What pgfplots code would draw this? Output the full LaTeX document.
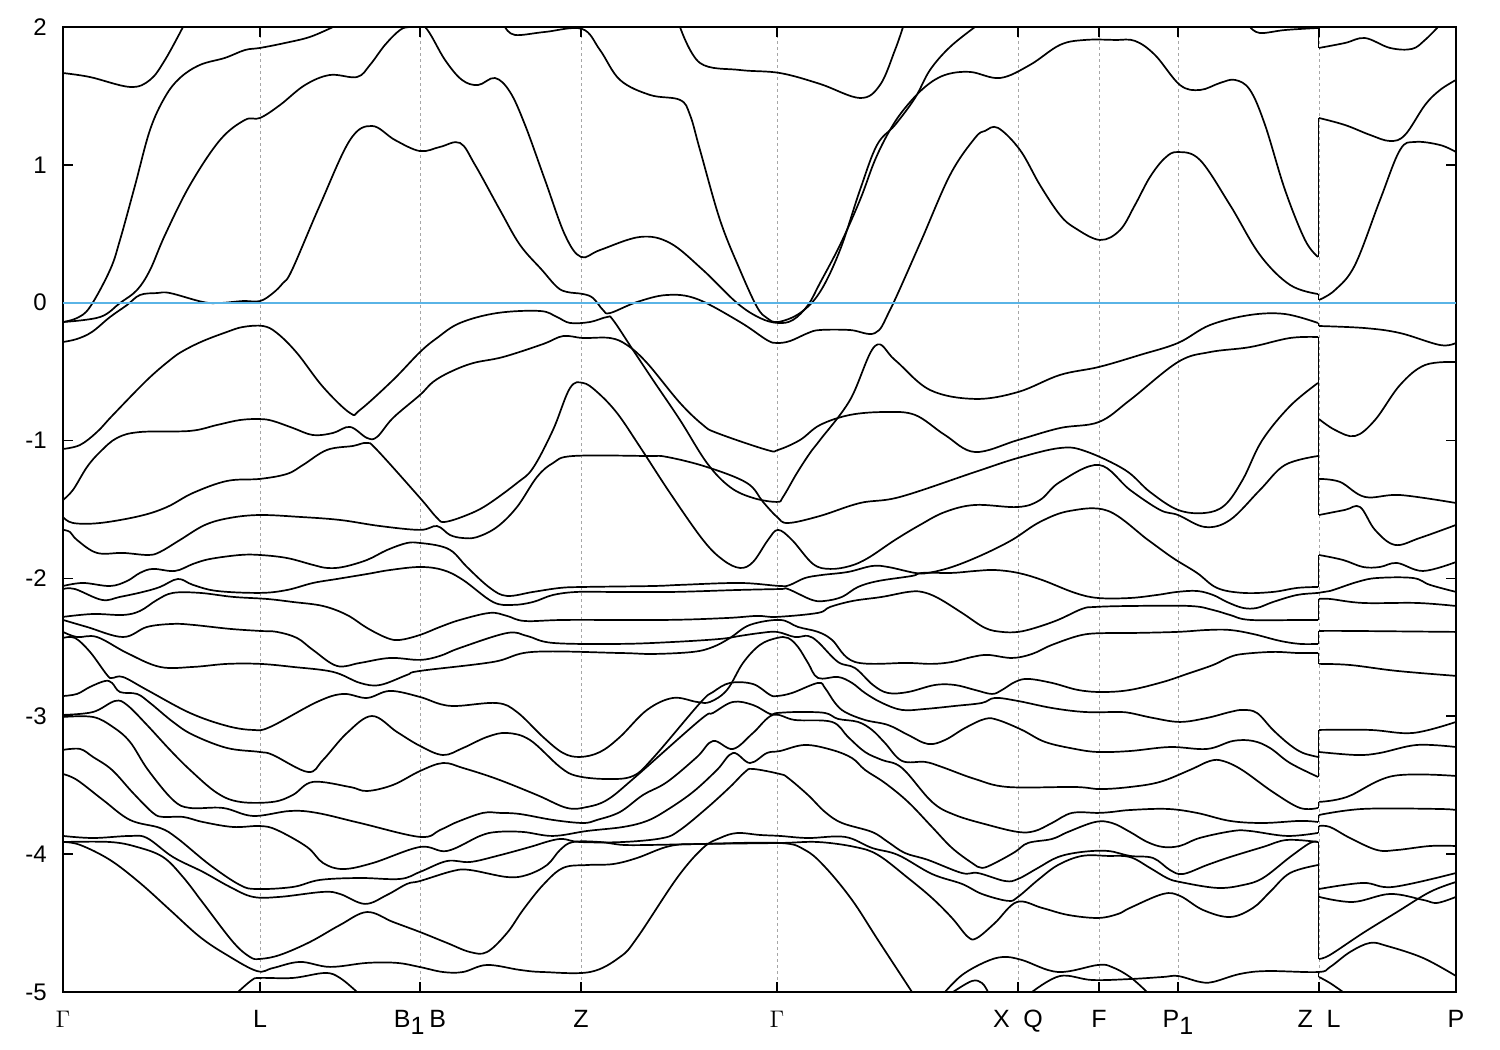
\documentclass[border=0pt]{standalone}
\usepackage{fontspec}
\setmainfont{Liberation Sans}
\usepackage{pgfplots}
\pgfplotsset{compat=1.18}
\definecolor{zeroline}{RGB}{90,180,230}
\pgfplotsset{band/.style={black,line width=.85pt,smooth,tension=.6,mark=none},
 jump/.style={black,line width=.9pt,mark=none}}
\begin{document}
\begin{tikzpicture}
\useasboundingbox (-31.5pt,-29pt) rectangle (718.5pt,496pt);
\begin{axis}[
 at={(0,0)},anchor=south west,
 scale only axis,width=696.5pt,height=482.5pt,
 xmin=63,xmax=1456,ymin=-5,ymax=2,
 axis line style={line width=.9pt},
 tick style={line width=.8pt,black},
 major tick length=5pt,tick align=inside,
 xtick={63,260,420,581,777,1018,1099,1178,1319,1456},
 xticklabels={$\Gamma$,L,{B\raisebox{-.25em}{1}\hspace{.2em}B},Z,$\Gamma$,{X\hspace{.55em}Q},F,{P\raisebox{-.25em}{1}},{Z\hspace{.55em}L},P},
 ytick={-5,-4,-3,-2,-1,0,1,2},
 yticklabels={-5,-4,-3,-2,-1,0,1,2},
 xmajorgrids,
 major grid style={gray!70,line width=.35pt,dash pattern=on 1.5pt off 1.5pt},
 xticklabel style={font=\fontsize{12.5}{14}\selectfont,anchor=base,yshift=-18pt,inner sep=0pt},
 yticklabel style={font=\fontsize{12}{14}\selectfont,anchor=east,xshift=-8pt,inner sep=0pt},
]
\addplot[band] coordinates {(63,1.666)(90,1.637)(130,1.565)(150,1.616)(165,1.761)(183,2)};
\addplot[band] coordinates {(63,-.14)(77,-.111)(90,-.031)(110,.237)(120,.455)(135,.85)(150,1.253)(165,1.492)(180,1.631)(200,1.725)(225,1.776)(245,1.833)(260,1.848)(285,1.884)(310,1.928)(333,2)};
\addplot[band] coordinates {(505,2)(515,1.942)(545,1.964)(582,1.986)(600,1.833)(620,1.616)(650,1.507)(680,1.471)(690,1.362)(700,1.108)(720,.6)(740,.237)(757,-.031)(767,-.111)(778,-.14)(800,-.075)(820,.078)(840,.382)(860,.818)(877,1.144)(895,1.289)(915,1.485)(930,1.688)(950,1.855)(975,2)};
\addplot[band] coordinates {(63,-.14)(100,-.104)(120,-.002)(137,.092)(150,.237)(165,.491)(190,.854)(220,1.18)(245,1.326)(260,1.34)(280,1.434)(305,1.579)(330,1.652)(357,1.637)(370,1.725)(385,1.87)(400,1.978)(410,2)(425,2)(445,1.761)(462,1.616)(478,1.579)(495,1.63)(510,1.529)(525,1.29)(545,.89)(565,.491)(581,.332)(600,.382)(640,.477)(670,.433)(703,.237)(737,-.002)(760,-.111)(778,-.147)(793,-.125)(808,-.017)(820,.143)(840,.419)(860,.745)(875,1.035)(890,1.253)(905,1.412)(925,1.565)(945,1.652)(970,1.674)(1000,1.63)(1030,1.725)(1060,1.87)(1085,1.906)(1115,1.906)(1135,1.899)(1155,1.797)(1180,1.579)(1200,1.543)(1220,1.594)(1235,1.616)(1250,1.543)(1265,1.29)(1285,.818)(1305,.455)(1318,.332)};
\addplot[band] coordinates {(680,2)(700,1.739)(740,1.688)(780,1.666)(820,1.587)(860,1.485)(880,1.579)(895,1.833)(903,2)};
\addplot[band] coordinates {(1250,2)(1260,1.956)(1285,1.978)(1318,1.993)};
\addplot[band] coordinates {(1319,1.848)(1345,1.884)(1365,1.92)(1390,1.848)(1412,1.841)(1425,1.906)(1438,2)};
\addplot[band] coordinates {(63,-.285)(77,-.263)(92,-.212)(110,-.104)(127,-.017)(140,.056)(157,.07)(170,.07)(203,.005)(220,-.002)(243,.012)(260,.012)(273,.07)(283,.143)(292,.237)(320,.709)(350,1.18)(372,1.282)(395,1.18)(420,1.1)(440,1.13)(460,1.159)(475,1)(500,.672)(520,.419)(542,.237)(557,.114)(567,.078)(583,.063)(593,.034)(603,-.053)(610,-.075)(637,.005)(667,.056)(697,.027)(740,-.14)(767,-.271)(777,-.292)(790,-.278)(808,-.22)(820,-.198)(850,-.198)(875,-.22)(890,-.053)(920,.43)(950,.926)(975,1.195)(985,1.246)(998,1.268)(1020,1.108)(1040,.853)(1060,.636)(1075,.542)(1100,.455)(1120,.527)(1135,.709)(1150,.912)(1165,1.05)(1178,1.093)(1200,1.035)(1230,.709)(1260,.346)(1290,.129)(1318,.063)};
\addplot[band] coordinates {(63,-1.061)(80,-1.032)(97,-.938)(113,-.814)(147,-.561)(170,-.416)(183,-.35)(203,-.278)(227,-.212)(243,-.176)(263,-.169)(277,-.22)(297,-.365)(323,-.611)(350,-.8)(360,-.778)(393,-.561)(420,-.358)(437,-.256)(460,-.147)(497,-.075)(540,-.06)(557,-.104)(570,-.147)(590,-.14)(607,-.104)(613,-.125)(633,-.343)(653,-.561)(680,-.851)(707,-1.163)(730,-1.337)(753,-1.416)(777,-1.445)(783,-1.409)(797,-1.235)(810,-1.09)(820,-.996)(850,-.706)(875,-.314)(895,-.416)(930,-.633)(975,-.698)(1018,-.648)(1060,-.524)(1099,-.466)(1140,-.379)(1178,-.292)(1210,-.162)(1250,-.089)(1285,-.082)(1318,-.147)};
\addplot[band] coordinates {(63,-1.431)(73,-1.358)(87,-1.192)(100,-1.083)(117,-.981)(140,-.938)(190,-.93)(217,-.887)(240,-.851)(260,-.844)(273,-.858)(293,-.909)(313,-.96)(333,-.945)(350,-.901)(367,-.981)(377,-.974)(393,-.836)(420,-.669)(433,-.575)(450,-.503)(473,-.438)(503,-.394)(543,-.3)(563,-.242)(583,-.256)(610,-.256)(627,-.307)(647,-.437)(680,-.727)(703,-.887)(717,-.945)(767,-1.068)(778,-1.068)(800,-.996)(820,-.887)(850,-.814)(885,-.793)(915,-.814)(945,-.96)(975,-1.083)(1018,-.996)(1060,-.909)(1099,-.865)(1130,-.706)(1178,-.43)(1210,-.358)(1250,-.322)(1290,-.256)(1318,-.249)};
\addplot[band] coordinates {(63,-1.554)(73,-1.598)(100,-1.598)(140,-1.547)(167,-1.482)(193,-1.38)(227,-1.293)(260,-1.278)(287,-1.242)(303,-1.177)(327,-1.068)(353,-1.039)(367,-1.017)(377,-1.068)(420,-1.416)(437,-1.561)(445,-1.59)(467,-1.54)(487,-1.467)(517,-1.308)(533,-1.199)(553,-.923)(570,-.619)(583,-.582)(597,-.647)(617,-.8)(640,-1.046)(670,-1.38)(703,-1.721)(723,-1.866)(740,-1.924)(753,-1.881)(768,-1.721)(778,-1.648)(792,-1.721)(813,-1.895)(830,-1.931)(850,-1.91)(868,-1.852)(895,-1.721)(920,-1.612)(945,-1.518)(975,-1.467)(1018,-1.482)(1040,-1.431)(1060,-1.3)(1099,-1.177)(1130,-1.358)(1160,-1.503)(1178,-1.54)(1205,-1.627)(1230,-1.576)(1260,-1.358)(1285,-1.177)(1318,-1.112)};
\addplot[band] coordinates {(63,-1.648)(70,-1.663)(77,-1.721)(97,-1.815)(123,-1.815)(148,-1.83)(160,-1.808)(180,-1.721)(205,-1.612)(230,-1.561)(260,-1.54)(300,-1.554)(340,-1.576)(380,-1.62)(420,-1.648)(437,-1.62)(450,-1.685)(463,-1.707)(477,-1.7)(497,-1.627)(517,-1.482)(537,-1.264)(553,-1.163)(573,-1.112)(647,-1.112)(667,-1.119)(707,-1.192)(747,-1.308)(763,-1.445)(777,-1.554)(788,-1.598)(820,-1.547)(860,-1.453)(900,-1.409)(975,-1.228)(1018,-1.126)(1060,-1.054)(1085,-1.076)(1125,-1.213)(1150,-1.373)(1178,-1.503)(1205,-1.525)(1225,-1.467)(1243,-1.28)(1262,-1)(1290,-.75)(1318,-.582)};
\addplot[band] coordinates {(63,-2.055)(83,-2.033)(110,-2.055)(127,-2.019)(140,-1.96)(153,-1.931)(175,-1.946)(193,-1.895)(210,-1.859)(240,-1.83)(260,-1.83)(287,-1.852)(313,-1.902)(327,-1.924)(343,-1.917)(367,-1.866)(387,-1.794)(407,-1.743)(420,-1.743)(440,-1.765)(453,-1.808)(467,-1.917)(490,-2.069)(507,-2.127)(533,-2.098)(560,-2.069)(583,-2.062)(653,-2.055)(680,-2.047)(740,-2.033)(780,-2.055)(790,-2.047)(805,-1.997)(822,-1.975)(848,-1.953)(872,-1.91)(888,-1.917)(915,-1.96)(928,-1.96)(952,-1.917)(982,-1.83)(1012,-1.721)(1040,-1.59)(1070,-1.51)(1108,-1.51)(1148,-1.721)(1173,-1.852)(1197,-1.96)(1217,-2.069)(1243,-2.105)(1273,-2.098)(1297,-2.069)(1318,-2.062)};
\addplot[band] coordinates {(63,-2.077)(75,-2.077)(102,-2.156)(120,-2.134)(143,-2.098)(160,-2.062)(178,-2.004)(193,-2.047)(217,-2.091)(260,-2.105)(287,-2.084)(313,-2.033)(337,-2.004)(367,-1.968)(390,-1.939)(420,-1.917)(443,-1.939)(463,-2.011)(493,-2.171)(513,-2.192)(533,-2.171)(553,-2.12)(577,-2.098)(613,-2.098)(673,-2.098)(737,-2.084)(780,-2.077)(788,-2.077)(812,-2.156)(825,-2.163)(842,-2.134)(858,-2.062)(878,-2.019)(912,-1.982)(922,-1.96)(952,-1.96)(975,-1.946)(995,-1.939)(1018,-1.96)(1042,-2.011)(1075,-2.105)(1098,-2.142)(1130,-2.142)(1157,-2.12)(1177,-2.098)(1197,-2.091)(1213,-2.12)(1227,-2.171)(1243,-2.214)(1257,-2.214)(1273,-2.171)(1297,-2.12)(1318,-2.105)(1330,-2.091)(1357,-2.026)(1377,-1.997)(1413,-1.997)(1430,-2.047)(1456,-2.098)};
\addplot[band] coordinates {(63,-2.279)(93,-2.258)(123,-2.265)(140,-2.236)(157,-2.156)(173,-2.105)(200,-2.105)(233,-2.134)(267,-2.149)(293,-2.171)(323,-2.2)(347,-2.265)(367,-2.359)(387,-2.432)(400,-2.446)(420,-2.41)(440,-2.352)(460,-2.301)(490,-2.25)(507,-2.272)(525,-2.309)(567,-2.301)(667,-2.301)(727,-2.287)(757,-2.272)(777,-2.279)(818,-2.25)(830,-2.207)(853,-2.163)(882,-2.134)(908,-2.098)(922,-2.098)(938,-2.142)(962,-2.25)(985,-2.359)(1002,-2.388)(1018,-2.388)(1035,-2.359)(1058,-2.301)(1082,-2.221)(1095,-2.207)(1130,-2.2)(1190,-2.2)(1213,-2.229)(1230,-2.265)(1250,-2.301)(1303,-2.301)(1318,-2.301)};
\addplot[band] coordinates {(63,-2.301)(87,-2.352)(123,-2.425)(147,-2.352)(173,-2.33)(193,-2.337)(230,-2.366)(260,-2.381)(277,-2.388)(297,-2.432)(313,-2.519)(337,-2.635)(360,-2.613)(390,-2.577)(420,-2.591)(440,-2.562)(460,-2.504)(507,-2.396)(527,-2.417)(553,-2.468)(620,-2.475)(673,-2.461)(720,-2.439)(740,-2.417)(760,-2.396)(777,-2.388)(795,-2.425)(808,-2.417)(818,-2.461)(838,-2.606)(855,-2.65)(873,-2.773)(888,-2.831)(908,-2.824)(935,-2.773)(955,-2.773)(975,-2.809)(992,-2.838)(1002,-2.809)(1015,-2.751)(1028,-2.729)(1052,-2.758)(1078,-2.809)(1102,-2.824)(1130,-2.809)(1163,-2.751)(1187,-2.693)(1213,-2.628)(1230,-2.57)(1243,-2.548)(1273,-2.533)(1298,-2.541)(1318,-2.541)};
\addplot[band] coordinates {(63,-2.388)(77,-2.425)(97,-2.425)(127,-2.541)(160,-2.642)(193,-2.642)(227,-2.62)(260,-2.62)(293,-2.642)(333,-2.678)(360,-2.758)(380,-2.773)(407,-2.7)(420,-2.671)(493,-2.606)(533,-2.533)(620,-2.541)(653,-2.548)(693,-2.533)(713,-2.497)(730,-2.432)(750,-2.337)(780,-2.301)(798,-2.352)(818,-2.388)(832,-2.446)(855,-2.606)(908,-2.613)(932,-2.62)(952,-2.606)(972,-2.57)(988,-2.555)(1012,-2.577)(1032,-2.548)(1052,-2.482)(1082,-2.41)(1108,-2.396)(1130,-2.396)(1177,-2.388)(1207,-2.374)(1230,-2.374)(1253,-2.403)(1280,-2.453)(1300,-2.475)(1318,-2.475)};
\addplot[band] coordinates {(63,-2.432)(75,-2.432)(90,-2.533)(107,-2.7)(112,-2.722)(123,-2.715)(147,-2.809)(190,-2.976)(227,-3.07)(253,-3.099)(270,-3.078)(317,-2.896)(343,-2.838)(367,-2.867)(390,-2.816)(420,-2.86)(440,-2.911)(457,-2.925)(497,-2.904)(517,-2.969)(543,-3.15)(563,-3.266)(580,-3.295)(600,-3.259)(620,-3.15)(647,-2.954)(673,-2.867)(697,-2.896)(710,-2.896)(727,-2.809)(743,-2.613)(760,-2.482)(777,-2.432)(788,-2.432)(798,-2.497)(808,-2.613)(818,-2.722)(838,-2.715)(852,-2.758)(865,-2.831)(882,-2.903)(902,-2.954)(925,-2.947)(955,-2.925)(982,-2.903)(995,-2.867)(1018,-2.889)(1052,-2.94)(1085,-2.969)(1118,-2.969)(1130,-2.976)(1153,-3.012)(1180,-3.041)(1207,-3.012)(1230,-2.969)(1243,-2.954)(1257,-2.976)(1273,-3.099)(1290,-3.208)(1303,-3.266)(1318,-3.295)};
\addplot[band] coordinates {(63,-2.853)(77,-2.838)(90,-2.787)(105,-2.744)(112,-2.758)(120,-2.824)(137,-2.838)(150,-2.903)(173,-3.041)(193,-3.135)(227,-3.23)(260,-3.259)(273,-3.281)(308,-3.404)(323,-3.317)(347,-3.121)(372,-2.998)(397,-3.114)(420,-3.215)(443,-3.281)(463,-3.23)(487,-3.15)(507,-3.121)(530,-3.172)(560,-3.368)(577,-3.433)(607,-3.455)(633,-3.433)(653,-3.303)(700,-2.904)(713,-2.824)(730,-2.758)(753,-2.766)(770,-2.845)(777,-2.853)(792,-2.831)(818,-2.758)(825,-2.795)(835,-2.903)(845,-2.969)(865,-3.027)(888,-3.063)(908,-3.135)(928,-3.201)(945,-3.172)(965,-3.085)(985,-3.019)(998,-3.027)(1022,-3.099)(1045,-3.186)(1075,-3.237)(1098,-3.259)(1130,-3.252)(1170,-3.223)(1207,-3.237)(1233,-3.179)(1253,-3.179)(1270,-3.23)(1290,-3.339)(1318,-3.44)};
\addplot[band] coordinates {(63,-2.99)(93,-2.969)(115,-2.889)(127,-2.918)(147,-3.063)(170,-3.244)(190,-3.389)(217,-3.556)(240,-3.621)(273,-3.621)(293,-3.57)(313,-3.476)(350,-3.513)(367,-3.542)(393,-3.498)(420,-3.397)(443,-3.339)(463,-3.375)(497,-3.455)(537,-3.571)(567,-3.665)(587,-3.658)(607,-3.607)(633,-3.455)(700,-3.027)(713,-2.976)(733,-2.896)(753,-2.918)(770,-2.983)(777,-2.976)(798,-2.969)(825,-2.976)(838,-3.019)(858,-3.041)(872,-3.099)(885,-3.194)(902,-3.324)(925,-3.331)(942,-3.368)(975,-3.455)(1008,-3.513)(1075,-3.513)(1100,-3.528)(1130,-3.513)(1160,-3.476)(1190,-3.389)(1210,-3.324)(1223,-3.324)(1242,-3.389)(1273,-3.55)(1300,-3.665)(1318,-3.665)};
\addplot[band] coordinates {(63,-3.005)(93,-3.005)(113,-3.078)(130,-3.186)(148,-3.389)(173,-3.607)(190,-3.665)(223,-3.665)(253,-3.723)(290,-3.687)(317,-3.701)(360,-3.774)(420,-3.875)(440,-3.825)(457,-3.767)(483,-3.701)(500,-3.701)(520,-3.709)(553,-3.752)(583,-3.774)(597,-3.752)(620,-3.694)(643,-3.571)(667,-3.477)(697,-3.295)(713,-3.179)(733,-3.237)(753,-3.121)(773,-2.99)(795,-3.027)(832,-3.041)(848,-3.15)(865,-3.259)(882,-3.317)(902,-3.375)(932,-3.621)(955,-3.716)(988,-3.788)(1018,-3.839)(1035,-3.832)(1052,-3.774)(1072,-3.701)(1098,-3.701)(1112,-3.694)(1130,-3.68)(1167,-3.672)(1197,-3.701)(1230,-3.759)(1263,-3.774)(1300,-3.759)(1318,-3.767)};
\addplot[band] coordinates {(63,-3.244)(80,-3.237)(93,-3.295)(112,-3.389)(133,-3.556)(153,-3.701)(163,-3.73)(183,-3.73)(203,-3.767)(233,-3.803)(260,-3.796)(277,-3.825)(307,-3.948)(323,-4.064)(343,-4.108)(373,-4.064)(420,-3.948)(447,-3.977)(480,-3.868)(497,-3.839)(523,-3.839)(553,-3.868)(587,-3.832)(623,-3.803)(647,-3.759)(667,-3.68)(693,-3.549)(717,-3.389)(733,-3.266)(750,-3.339)(767,-3.266)(780,-3.252)(805,-3.208)(832,-3.244)(852,-3.303)(865,-3.389)(885,-3.484)(908,-3.621)(932,-3.803)(952,-3.955)(972,-4.064)(982,-4.1)(995,-4.064)(1015,-3.984)(1028,-3.919)(1052,-3.89)(1068,-3.839)(1095,-3.767)(1112,-3.774)(1130,-3.839)(1147,-3.911)(1163,-3.948)(1180,-3.94)(1200,-3.882)(1233,-3.832)(1250,-3.832)(1287,-3.868)(1318,-3.846)};
\addplot[band] coordinates {(63,-3.419)(77,-3.462)(103,-3.607)(130,-3.752)(160,-3.81)(177,-3.883)(210,-4.079)(240,-4.224)(257,-4.253)(293,-4.238)(320,-4.187)(360,-4.173)(400,-4.18)(420,-4.129)(447,-4.05)(470,-4.057)(497,-4.013)(530,-3.948)(550,-3.904)(563,-3.89)(580,-3.912)(623,-3.912)(663,-3.883)(680,-3.825)(707,-3.665)(730,-3.513)(745,-3.404)(753,-3.382)(780,-3.419)(788,-3.447)(808,-3.571)(825,-3.694)(842,-3.774)(872,-3.839)(888,-3.912)(905,-3.992)(928,-4.042)(962,-4.137)(978,-4.137)(1005,-4.195)(1018,-4.18)(1038,-4.1)(1058,-4.021)(1082,-3.984)(1108,-3.977)(1130,-4.013)(1153,-4.028)(1170,-4.115)(1183,-4.144)(1207,-4.079)(1230,-4.021)(1263,-3.948)(1287,-3.897)(1318,-3.912)};
\addplot[band] coordinates {(63,-3.868)(93,-3.883)(130,-3.868)(147,-3.883)(173,-4.021)(203,-4.129)(230,-4.238)(253,-4.31)(280,-4.31)(323,-4.274)(340,-4.289)(365,-4.361)(387,-4.296)(407,-4.216)(420,-4.195)(453,-4.122)(470,-4.115)(507,-4.166)(527,-4.151)(547,-4.079)(560,-3.97)(573,-3.912)(600,-3.912)(623,-3.933)(653,-3.933)(703,-3.926)(780,-3.919)(818,-3.912)(855,-3.948)(878,-4.006)(908,-4.173)(932,-4.318)(952,-4.463)(968,-4.601)(977,-4.608)(995,-4.499)(1017,-4.347)(1042,-4.39)(1068,-4.441)(1098,-4.463)(1118,-4.434)(1130,-4.39)(1163,-4.289)(1180,-4.303)(1203,-4.405)(1230,-4.456)(1253,-4.39)(1270,-4.274)(1290,-4.137)(1318,-4.079)};
\addplot[band] coordinates {(63,-3.912)(110,-3.912)(137,-3.948)(163,-4.021)(183,-4.166)(203,-4.354)(233,-4.637)(250,-4.746)(260,-4.76)(280,-4.731)(310,-4.637)(340,-4.514)(367,-4.42)(393,-4.492)(420,-4.565)(447,-4.644)(470,-4.71)(487,-4.71)(507,-4.572)(523,-4.405)(543,-4.224)(563,-4.1)(587,-4.079)(613,-4.072)(637,-4.028)(670,-3.941)(703,-3.926)(780,-3.919)(805,-3.97)(825,-4.093)(852,-4.332)(878,-4.623)(912,-5)};
\addplot[band] coordinates {(63,-3.912)(80,-3.933)(110,-4.042)(140,-4.209)(170,-4.405)(200,-4.601)(227,-4.732)(257,-4.848)(273,-4.826)(300,-4.782)(330,-4.818)(367,-4.789)(397,-4.789)(420,-4.819)(443,-4.855)(463,-4.855)(487,-4.804)(520,-4.84)(543,-4.855)(590,-4.855)(620,-4.746)(637,-4.608)(677,-4.173)(703,-3.955)(720,-3.883)(737,-3.847)(760,-3.861)(780,-3.868)(808,-3.883)(845,-3.875)(872,-3.955)(898,-4.006)(932,-4.144)(962,-4.216)(982,-4.289)(1008,-4.339)(1018,-4.31)(1038,-4.187)(1058,-4.079)(1082,-4.013)(1108,-4.013)(1130,-4.021)(1150,-4.1)(1167,-4.173)(1180,-4.202)(1217,-4.245)(1243,-4.224)(1263,-4.173)(1290,-4.021)(1310,-3.919)(1318,-3.912)};
\addplot[band] coordinates {(238,-5)(252,-4.913)(260,-4.898)(293,-4.898)(325,-4.862)(340,-4.898)(357,-5)};
\addplot[band] coordinates {(945,-5)(962,-4.877)(985,-4.783)(1003,-4.746)(1022,-4.768)(1058,-4.855)(1098,-4.804)(1112,-4.819)(1130,-4.891)(1147,-5)};
\addplot[band] coordinates {(953,-5)(972,-4.92)(982,-4.935)(988,-5)};
\addplot[band] coordinates {(1032,-5)(1060,-4.884)(1092,-4.913)(1130,-4.906)(1163,-4.891)(1178,-4.884)(1200,-4.927)(1213,-4.927)(1240,-4.869)(1267,-4.848)(1318,-4.855)(1330,-4.819)(1350,-4.71)(1370,-4.644)(1387,-4.666)(1423,-4.753)(1456,-4.884)};
\addplot[band] coordinates {(1319,1.34)(1345,1.289)(1370,1.217)(1390,1.173)(1405,1.217)(1425,1.434)(1440,1.543)(1456,1.616)};
\addplot[band] coordinates {(1319,.02)(1335,.092)(1355,.274)(1380,.745)(1400,1.108)(1415,1.166)(1440,1.144)(1456,1.093)};
\addplot[band] coordinates {(1319,-.169)(1365,-.184)(1400,-.22)(1440,-.307)(1456,-.292)};
\addplot[band] coordinates {(1319,-.844)(1335,-.923)(1355,-.967)(1375,-.851)(1400,-.597)(1425,-.452)(1456,-.43)};
\addplot[band] coordinates {(1319,-1.278)(1340,-1.3)(1365,-1.409)(1400,-1.395)(1456,-1.453)};
\addplot[band] coordinates {(1319,-1.54)(1345,-1.503)(1360,-1.482)(1375,-1.648)(1395,-1.757)(1420,-1.706)(1456,-1.612)};
\addplot[band] coordinates {(1319,-1.83)(1343,-1.866)(1363,-1.917)(1380,-1.917)(1397,-1.888)(1423,-1.946)(1456,-1.881)};
\addplot[band] coordinates {(1319,-2.149)(1330,-2.149)(1363,-2.178)(1417,-2.178)(1456,-2.2)};
\addplot[band] coordinates {(1319,-2.381)(1350,-2.381)(1456,-2.388)};
\addplot[band] coordinates {(1319,-2.62)(1350,-2.628)(1397,-2.671)(1456,-2.707)};
\addplot[band] coordinates {(1319,-3.099)(1370,-3.099)(1413,-3.121)(1456,-3.041)};
\addplot[band] coordinates {(1319,-3.259)(1357,-3.281)(1380,-3.266)(1417,-3.208)(1456,-3.223)};
\addplot[band] coordinates {(1319,-3.621)(1347,-3.585)(1393,-3.433)(1456,-3.433)};
\addplot[band] coordinates {(1319,-3.716)(1363,-3.672)(1437,-3.672)(1456,-3.68)};
\addplot[band] coordinates {(1319,-3.796)(1330,-3.803)(1350,-3.883)(1377,-3.97)(1397,-3.97)(1430,-3.941)(1456,-3.941)};
\addplot[band] coordinates {(1319,-4.253)(1363,-4.209)(1393,-4.238)(1456,-4.137)};
\addplot[band] coordinates {(1319,-4.31)(1353,-4.347)(1390,-4.289)(1423,-4.332)(1437,-4.354)(1456,-4.31)};
\addplot[band] coordinates {(1319,-4.76)(1330,-4.731)(1363,-4.572)(1397,-4.42)(1430,-4.274)(1456,-4.202)};
\addplot[band] coordinates {(1319,-4.891)(1330,-4.935)(1343,-5)};
\addplot[jump] coordinates {(1318.5,1.993)(1318.5,1.848)};
\addplot[jump] coordinates {(1318.5,1.34)(1318.5,.332)};
\addplot[jump] coordinates {(1318.5,.063)(1318.5,.02)};
\addplot[jump] coordinates {(1318.5,-.147)(1318.5,-.169)};
\addplot[jump] coordinates {(1318.5,-.249)(1318.5,-1.54)};
\addplot[jump] coordinates {(1318.5,-1.83)(1318.5,-2.062)};
\addplot[jump] coordinates {(1318.5,-2.149)(1318.5,-2.301)};
\addplot[jump] coordinates {(1318.5,-2.381)(1318.5,-2.475)};
\addplot[jump] coordinates {(1318.5,-2.541)(1318.5,-2.62)};
\addplot[jump] coordinates {(1318.5,-3.099)(1318.5,-3.44)};
\addplot[jump] coordinates {(1318.5,-3.621)(1318.5,-3.665)};
\addplot[jump] coordinates {(1318.5,-3.716)(1318.5,-3.767)};
\addplot[jump] coordinates {(1318.5,-3.796)(1318.5,-3.846)};
\addplot[jump] coordinates {(1318.5,-3.912)(1318.5,-4.76)};
\addplot[jump] coordinates {(1318.5,-4.855)(1318.5,-4.891)};
\addplot[zeroline,line width=.85pt,mark=none] coordinates {(63,0)(1456,0)};
\end{axis}
\end{tikzpicture}
\end{document}
